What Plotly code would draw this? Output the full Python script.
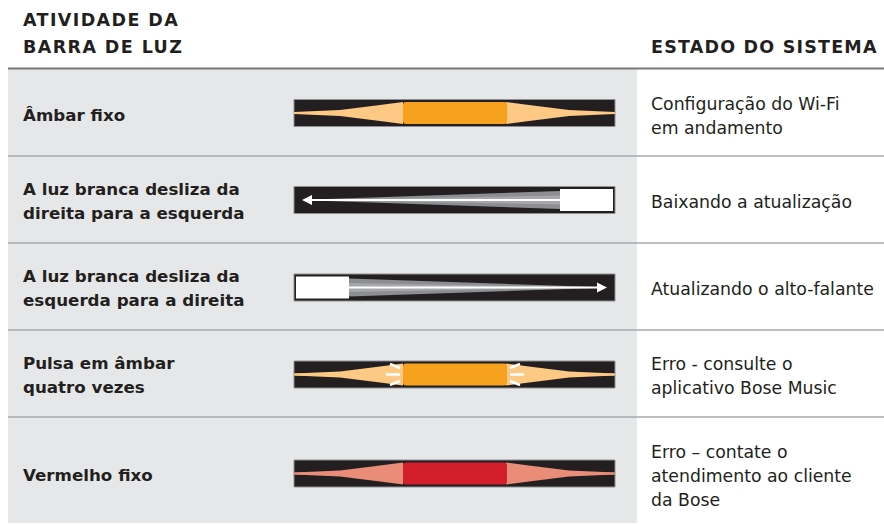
import plotly.graph_objects as go

W, H = 884, 524

# ---- content ----
header_left = ["ATIVIDADE DA", "BARRA DE LUZ"]
header_right = ["ESTADO DO SISTEMA"]
activities = [
    ["Âmbar fixo"],
    ["A luz branca desliza da", "direita para a esquerda"],
    ["A luz branca desliza da", "esquerda para a direita"],
    ["Pulsa em âmbar", "quatro vezes"],
    ["Vermelho fixo"],
]
statuses = [
    ["Configuração do Wi-Fi", "em andamento"],
    ["Baixando a atualização"],
    ["Atualizando o alto-falante"],
    ["Erro - consulte o", "aplicativo Bose Music"],
    ["Erro – contate o", "atendimento ao cliente", "da Bose"],
]
patterns = ["solid", "slide_left", "slide_right", "pulse", "solid"]
block_colors = ["#f7a21e", "#ffffff", "#ffffff", "#f7a21e", "#d21f2b"]
glow_colors = ["#fec985", None, None, "#fec985", "#e98c78"]

# ---- layout constants ----
row_edges = [69, 156, 243, 330, 417, 523]
bar_y = [113, 200, 287.5, 374.5, 473.5]
text_y = [115, 201, 287.5, 375, 475]
LINE = 24
BAR_X0, BAR_X1, BAR_HALF = 294, 615, 13.5
BLK_X0, BLK_X1, BLK_HALF = 403, 507, 11
GRAY_L, GRAY_R = 8, 637
TXT = "#231f20"
BG = "#e6e7e8"
DARK = "#231f20"
FONT = "DejaVu Sans"

shapes = []
annotations = []


def rect(x0, y0, x1, y1, fill, line=None, lw=0):
    shapes.append(dict(type="rect", xref="x", yref="y", x0=x0, x1=x1, y0=y0, y1=y1,
                       fillcolor=fill, line=dict(color=line or fill, width=lw), layer="above"))


def path(d, fill, line=None, lw=0):
    shapes.append(dict(type="path", xref="x", yref="y", path=d, fillcolor=fill,
                       line=dict(color=line or fill, width=lw), layer="above"))


def seg(x0, y0, x1, y1, color, w):
    shapes.append(dict(type="line", xref="x", yref="y", x0=x0, y0=y0, x1=x1, y1=y1,
                       line=dict(color=color, width=w), layer="above"))


def poly(pts):
    return "M " + " L ".join(f"{x},{y}" for x, y in pts) + " Z"


def rounded(x0, y0, x1, y1, r):
    return (f"M {x0+r},{y0} L {x1-r},{y0} Q {x1},{y0} {x1},{y0+r} L {x1},{y1-r} "
            f"Q {x1},{y1} {x1-r},{y1} L {x0+r},{y1} Q {x0},{y1} {x0},{y1-r} "
            f"L {x0},{y0+r} Q {x0},{y0} {x0+r},{y0} Z")


# backgrounds
rect(GRAY_L, row_edges[0], GRAY_R, row_edges[-1], BG)
seg(GRAY_L, row_edges[0] - 0.5, W, row_edges[0] - 0.5, "#77787b", 2.2)
for e in row_edges[1:-1]:
    seg(GRAY_L, e, W, e, "#a7a9ac", 1.5)

for i, pat in enumerate(patterns):
    c = bar_y[i]
    rect(BAR_X0, c - BAR_HALF, BAR_X1, c + BAR_HALF, DARK, "#8d8f92", 1)
    if pat in ("solid", "pulse"):
        g = glow_colors[i]
        prof = [(0, 1.0), (46, 3.0), (86, 8.0), (BLK_X0 - BAR_X0, BLK_HALF)]
        left = [(BAR_X0 + dx, c - h) for dx, h in prof] + [(BAR_X0 + dx, c + h) for dx, h in reversed(prof)]
        right = [(BAR_X1 - dx, c - h) for dx, h in prof] + [(BAR_X1 - dx, c + h) for dx, h in reversed(prof)]
        path(poly(left), g)
        path(poly(right), g)
        seg(BAR_X0 + 1, c, BAR_X1 - 1, c, g, 2)
        path(rounded(BLK_X0, c - BLK_HALF, BLK_X1, c + BLK_HALF, 3), block_colors[i])
        if pat == "pulse":
            for sgn, x_in in ((-1, BLK_X0 - 3), (1, BLK_X1 + 3)):
                seg(x_in, c, x_in + sgn * 14, c, "#ffffff", 2.5)
                seg(x_in, c - 6.5, x_in + sgn * 10, c - 10.5, "#ffffff", 2.5)
                seg(x_in, c + 6.5, x_in + sgn * 10, c + 10.5, "#ffffff", 2.5)
    else:
        if pat == "slide_left":
            bx0, bx1, tip, sgn = 560, 613, 302, -1
            edge = bx0
        else:
            bx0, bx1, tip, sgn = 296, 349, 607, 1
            edge = bx1
        far = tip - sgn * 10
        path(poly([(edge, c - 9), (edge, c + 9), (far, c + 0.5), (far, c - 0.5)]), "#8c8e91")
        path(poly([(edge, c - 4.5), (edge, c + 4.5), (far, c)]), "#a5a7aa")
        seg(edge, c, far, c, "#ffffff", 2)
        path(poly([(tip, c), (far, c - 5), (far, c + 5)]), "#ffffff")
        rect(bx0, c - BLK_HALF, bx1, c + BLK_HALF, block_colors[i])


def spaced(t, sp):
    return f'<span style="letter-spacing:{sp}px">{t}</span>'


def add_lines(lines, x, yc, anchor, size, bold):
    n = len(lines)
    for k, t in enumerate(lines):
        y = yc + (k - (n - 1) / 2) * LINE
        annotations.append(dict(x=x, y=y, xref="x", yref="y", text=(f"<b>{t}</b>" if bold else t),
                                showarrow=False, xanchor=anchor, yanchor="middle",
                                font=dict(family=FONT, size=size, color=TXT)))


for k, t in enumerate(header_left):
    annotations.append(dict(x=21, y=20 + k * 27, xref="x", yref="y", text=f"<b>{spaced(t, 1.4)}</b>",
                            showarrow=False, xanchor="left", yanchor="middle",
                            font=dict(family=FONT, size=17.5, color=TXT)))
annotations.append(dict(x=649, y=47, xref="x", yref="y", text=f"<b>{spaced(header_right[0], 1.2)}</b>",
                        showarrow=False, xanchor="left", yanchor="middle",
                        font=dict(family=FONT, size=17.5, color=TXT)))

for i in range(len(activities)):
    add_lines(activities[i], 21, text_y[i], "left", 16.7, True)
    add_lines(statuses[i], 649, text_y[i] + 1, "left", 17.3, False)

fig = go.Figure()
fig.update_layout(
    width=W, height=H, margin=dict(l=0, r=0, t=0, b=0, pad=0),
    paper_bgcolor="#ffffff", plot_bgcolor="#ffffff",
    xaxis=dict(range=[0, W], visible=False, fixedrange=True),
    yaxis=dict(range=[H, 0], visible=False, fixedrange=True),
    shapes=shapes, annotations=annotations, showlegend=False,
)
fig.write_html(
    "out.html",
    config={"displayModeBar": False},
    post_script="document.body.style.margin='0';document.body.style.overflow='hidden';",
)
